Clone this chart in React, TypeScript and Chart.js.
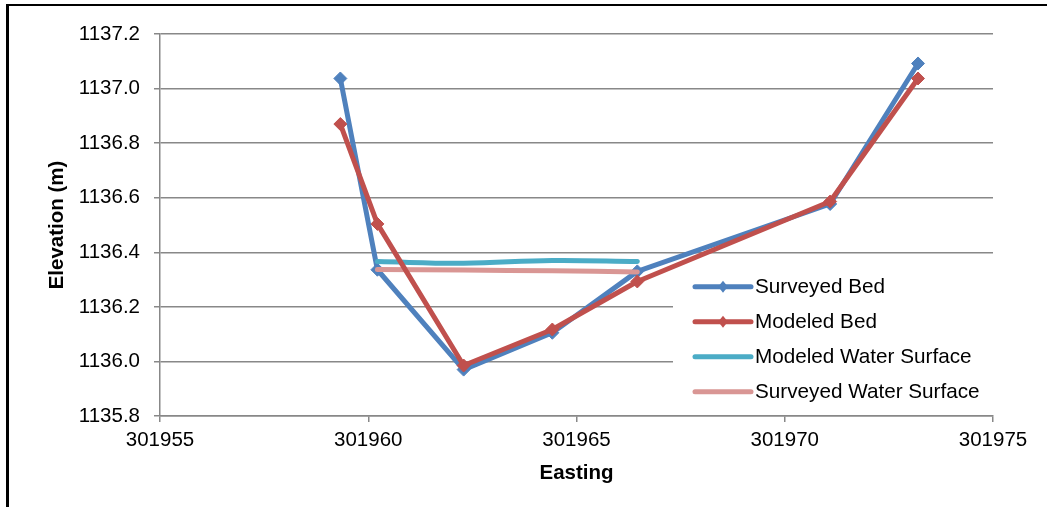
import React, { useEffect, useRef } from "react";
import { Chart, registerables } from "chart.js";

Chart.register(...registerables);

// ---- Data ----
const bedEasting = [301959.33, 301960.22, 301962.29, 301964.42, 301966.46, 301971.09, 301973.2];
const surveyedBed = [1137.037, 1136.336, 1135.97, 1136.105, 1136.33, 1136.577, 1137.092];
const modeledBed = [1136.87, 1136.504, 1135.985, 1136.117, 1136.293, 1136.586, 1137.037];

const wsEasting = [301960.22, 301962.29, 301964.42, 301966.46];
const modeledWS = [1136.366, 1136.36, 1136.37, 1136.366];
const surveyedWS = [1136.337, 1136.335, 1136.332, 1136.328];

const xTicks = [301955, 301960, 301965, 301970, 301975];
const yTicks = [1135.8, 1136.0, 1136.2, 1136.4, 1136.6, 1136.8, 1137.0, 1137.2];

const seriesNames = ["Surveyed Bed", "Modeled Bed", "Modeled Water Surface", "Surveyed Water Surface"];
const seriesColors = ["#4F81BD", "#C0504D", "#4BACC6", "#D99694"];
const seriesMarkers = [true, true, false, false];

const FONT = "'Liberation Sans', Arial, sans-serif";
const GRID = "#888888";

const toPoints = (xs: number[], ys: number[]) => xs.map((x, i) => ({ x, y: ys[i] }));

const legendPlugin = {
  id: "insideLegend",
  beforeDatasetsDraw(chart: any) {
    const { ctx, chartArea } = chart;
    ctx.save();
    ctx.fillStyle = "#ffffff";
    const left = chartArea.left + 513;
    ctx.fillRect(left, 262, chartArea.right - left + 4, chartArea.bottom - 265);
    ctx.restore();
  },
  afterDatasetsDraw(chart: any) {
    const { ctx, chartArea } = chart;
    const lx0 = chartArea.left + 535;
    const lx1 = lx0 + 56;
    const tx = lx1 + 4;
    const y0 = 286.7;
    const dy = 35;
    ctx.save();
    seriesNames.forEach((name, i) => {
      const y = y0 + i * dy;
      ctx.strokeStyle = seriesColors[i];
      ctx.lineWidth = 5;
      ctx.lineCap = "round";
      ctx.beginPath();
      ctx.moveTo(lx0, y);
      ctx.lineTo(lx1, y);
      ctx.stroke();
      if (seriesMarkers[i]) {
        const cx = (lx0 + lx1) / 2;
        const r = 6;
        ctx.fillStyle = seriesColors[i];
        ctx.beginPath();
        ctx.moveTo(cx, y - r);
        ctx.lineTo(cx + r * 0.8, y);
        ctx.lineTo(cx, y + r);
        ctx.lineTo(cx - r * 0.8, y);
        ctx.closePath();
        ctx.fill();
      }
      ctx.fillStyle = "#000";
      ctx.font = `20.7px ${FONT}`;
      ctx.textAlign = "left";
      ctx.textBaseline = "alphabetic";
      ctx.fillText(name, tx, y + 6.3);
    });
    ctx.restore();
  },
};

export default function App() {
  const canvasRef = useRef<HTMLCanvasElement | null>(null);

  useEffect(() => {
    if (!canvasRef.current) return;
    const lineBase = {
      borderWidth: 5,
      borderJoinStyle: "round" as const,
      borderCapStyle: "round" as const,
      showLine: true,
    };
    const chart = new Chart(canvasRef.current, {
      type: "scatter",
      data: {
        datasets: [
          {
            ...lineBase,
            label: seriesNames[1],
            data: toPoints(bedEasting, modeledBed),
            borderColor: seriesColors[1],
            backgroundColor: seriesColors[1],
            pointStyle: "rectRot",
            pointRadius: 6.5,
            pointBorderWidth: 1,
          },
          {
            ...lineBase,
            label: seriesNames[3],
            data: toPoints(wsEasting, surveyedWS),
            borderColor: seriesColors[3],
            backgroundColor: seriesColors[3],
            pointRadius: 0,
            tension: 0.4,
          },
          {
            ...lineBase,
            label: seriesNames[2],
            data: toPoints(wsEasting, modeledWS),
            borderColor: seriesColors[2],
            backgroundColor: seriesColors[2],
            pointRadius: 0,
            tension: 0.4,
          },
          {
            ...lineBase,
            label: seriesNames[0],
            data: toPoints(bedEasting, surveyedBed),
            borderColor: seriesColors[0],
            backgroundColor: seriesColors[0],
            pointStyle: "rectRot",
            pointRadius: 6.5,
            pointBorderWidth: 1,
          },
        ],
      },
      options: {
        animation: false,
        responsive: false,
        devicePixelRatio: 1,
        layout: { padding: { top: 34, right: 54, left: 0, bottom: 0 } },
        plugins: {
          legend: { display: false },
          tooltip: { enabled: false },
          title: { display: false },
        },
        scales: {
          x: {
            type: "linear",
            min: 301955,
            max: 301975,
            afterBuildTicks: (s: any) => {
              s.ticks = xTicks.map((v) => ({ value: v }));
            },
            afterFit: (s: any) => {
              s.height = 91;
            },
            ticks: {
              color: "#000",
              padding: 6.5,
              font: { family: FONT, size: 20.5 },
              callback: (v: any) => String(v),
              maxRotation: 0,
            },
            grid: {
              display: true,
              drawOnChartArea: false,
              drawTicks: true,
              tickLength: 6,
              color: GRID,
              lineWidth: 1.5,
            },
            border: { display: true, color: GRID, width: 1.5 },
            title: {
              display: true,
              text: "Easting",
              color: "#000",
              font: { family: FONT, size: 20.5, weight: "bold" },
              padding: { top: 0, bottom: 21.5 },
            },
          },
          y: {
            type: "linear",
            min: 1135.8,
            max: 1137.2,
            afterBuildTicks: (s: any) => {
              s.ticks = yTicks.map((v) => ({ value: v }));
            },
            afterFit: (s: any) => {
              s.width = 160;
            },
            ticks: {
              color: "#000",
              padding: 14,
              font: { family: FONT, size: 20.5 },
              callback: (v: any) => Number(v).toFixed(1),
            },
            grid: {
              display: true,
              drawTicks: true,
              tickLength: 6,
              color: GRID,
              lineWidth: 1.5,
            },
            border: { display: true, color: GRID, width: 1.5 },
            title: {
              display: true,
              text: "Elevation (m)",
              color: "#000",
              font: { family: FONT, size: 20.5, weight: "bold" },
              padding: { top: 45, bottom: 0 },
            },
          },
        },
      },
      plugins: [legendPlugin],
    });
    return () => chart.destroy();
  }, []);

  return (
    <div style={{ position: "fixed", left: 0, top: 0, width: 1047, height: 507, background: "#fff", overflow: "hidden" }}>
      <canvas ref={canvasRef} width={1047} height={507} style={{ position: "absolute", left: 0, top: 0, display: "block" }} />
      <div
        style={{
          position: "absolute",
          left: 6,
          top: 4,
          width: 1100,
          height: 600,
          borderLeft: "3px solid #000",
          borderTop: "2px solid #000",
          pointerEvents: "none",
        }}
      />
    </div>
  );
}
